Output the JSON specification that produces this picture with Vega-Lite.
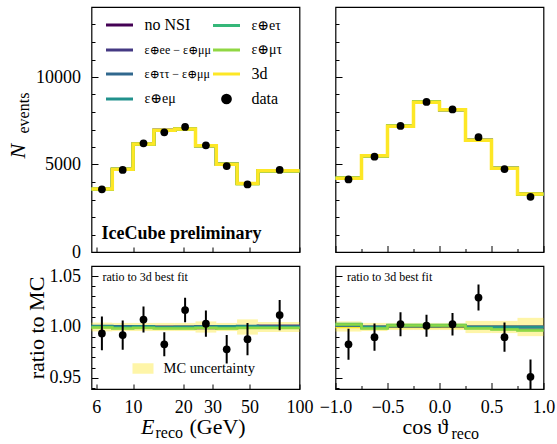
{
  "$schema": "https://vega.github.io/schema/vega-lite/v6.json",
  "padding": {"left": 5.5, "top": 6, "right": 2, "bottom": 0},
  "background": "white",
  "config": {
    "font": "Liberation Serif, DejaVu Serif, serif",
    "view": {"stroke": "black", "strokeWidth": 1.2},
    "axis": {"domain": false, "grid": false, "tickColor": "black", "tickWidth": 1, "labelColor": "black", "labelFont": "Liberation Serif, DejaVu Serif, serif", "labelFontSize": 18, "titleFont": "Liberation Serif, DejaVu Serif, serif", "titleFontWeight": "normal", "titleColor": "black", "labelOverlap": false, "labelFlush": false, "labelBound": false},
    "legend": {"labelFont": "Liberation Serif, DejaVu Serif, serif", "labelColor": "black", "padding": 0}
  },
  "datasets": {
    "topE": [
      {"x": 5.6234, "a": 3605, "b": 3605, "c": 3607, "d": 3605, "e": 3603, "f": 3601, "g": 3603},
      {"x": 7.4989, "a": 4730, "b": 4732, "c": 4732, "d": 4730, "e": 4725, "f": 4723, "g": 4730},
      {"x": 10, "a": 6167, "b": 6167, "c": 6170, "d": 6170, "e": 6164, "f": 6161, "g": 6167},
      {"x": 13.335, "a": 6954, "b": 6954, "c": 6954, "d": 6950, "e": 6947, "f": 6944, "g": 6954},
      {"x": 17.783, "a": 7030, "b": 7030, "c": 7030, "d": 7030, "e": 7023, "f": 7020, "g": 7030},
      {"x": 23.714, "a": 6067, "b": 6076, "c": 6076, "d": 6073, "e": 6070, "f": 6067, "g": 6073},
      {"x": 31.623, "a": 5019, "b": 5019, "c": 5022, "d": 5022, "e": 5014, "f": 5011, "g": 5019},
      {"x": 42.17, "a": 3910, "b": 3910, "c": 3912, "d": 3910, "e": 3906, "f": 3904, "g": 3908},
      {"x": 56.234, "a": 4642, "b": 4642, "c": 4639, "d": 4637, "e": 4635, "f": 4632, "g": 4637},
      {"x": 100, "a": 4642, "b": 4642, "c": 4639, "d": 4637, "e": 4635, "f": 4632, "g": 4637}
    ],
    "ratE": [
      {"x": 5.6234, "a": 1.0005, "b": 1.0005, "c": 1.001, "d": 1.0005, "e": 1.0, "f": 0.9995, "g": 1},
      {"x": 7.4989, "a": 1.0, "b": 1.0005, "c": 1.0005, "d": 1.0, "e": 0.999, "f": 0.9985, "g": 1},
      {"x": 10, "a": 1.0, "b": 1.0, "c": 1.0005, "d": 1.0005, "e": 0.9995, "f": 0.999, "g": 1},
      {"x": 13.335, "a": 1.0, "b": 1.0, "c": 1.0, "d": 0.9995, "e": 0.999, "f": 0.9985, "g": 1},
      {"x": 17.783, "a": 1.0, "b": 1.0, "c": 1.0, "d": 1.0, "e": 0.999, "f": 0.9985, "g": 1},
      {"x": 23.714, "a": 0.999, "b": 1.0005, "c": 1.0005, "d": 1.0, "e": 0.9995, "f": 0.999, "g": 1},
      {"x": 31.623, "a": 1.0, "b": 1.0, "c": 1.0005, "d": 1.0005, "e": 0.999, "f": 0.9985, "g": 1},
      {"x": 42.17, "a": 1.0005, "b": 1.0005, "c": 1.001, "d": 1.0005, "e": 0.9995, "f": 0.999, "g": 1},
      {"x": 56.234, "a": 1.001, "b": 1.001, "c": 1.0005, "d": 1.0, "e": 0.9995, "f": 0.999, "g": 1},
      {"x": 100, "a": 1.001, "b": 1.001, "c": 1.0005, "d": 1.0, "e": 0.9995, "f": 0.999, "g": 1}
    ],
    "bandE": [
      {"x": 5.6234, "x2": 7.4989, "lo": 0.9957, "hi": 1.0043},
      {"x": 7.4989, "x2": 10, "lo": 0.996, "hi": 1.004},
      {"x": 10, "x2": 13.335, "lo": 0.996, "hi": 1.004},
      {"x": 13.335, "x2": 17.783, "lo": 0.996, "hi": 1.004},
      {"x": 17.783, "x2": 23.714, "lo": 0.996, "hi": 1.004},
      {"x": 23.714, "x2": 31.623, "lo": 0.9945, "hi": 1.0055},
      {"x": 31.623, "x2": 42.17, "lo": 0.996, "hi": 1.004},
      {"x": 42.17, "x2": 56.234, "lo": 0.9925, "hi": 1.0075},
      {"x": 56.234, "x2": 100, "lo": 0.995, "hi": 1.005}
    ],
    "dataE": [
      {"x": 6.494, "n": 3580, "nlo": 3520, "nhi": 3640, "r": 0.9937, "rlo": 0.9771, "rhi": 1.0103},
      {"x": 8.66, "n": 4692, "nlo": 4624, "nhi": 4760, "r": 0.992, "rlo": 0.9775, "rhi": 1.0065},
      {"x": 11.548, "n": 6212, "nlo": 6133, "nhi": 6291, "r": 1.0073, "rlo": 0.9945, "rhi": 1.0201},
      {"x": 15.399, "n": 6836, "nlo": 6753, "nhi": 6919, "r": 0.983, "rlo": 0.9711, "rhi": 0.9949},
      {"x": 20.535, "n": 7147, "nlo": 7063, "nhi": 7231, "r": 1.0167, "rlo": 1.0047, "rhi": 1.0287},
      {"x": 27.384, "n": 6093, "nlo": 6015, "nhi": 6171, "r": 1.0033, "rlo": 0.9904, "rhi": 1.0162},
      {"x": 36.517, "n": 4909, "nlo": 4839, "nhi": 4979, "r": 0.978, "rlo": 0.964, "rhi": 0.992},
      {"x": 48.697, "n": 3861, "nlo": 3799, "nhi": 3923, "r": 0.988, "rlo": 0.9721, "rhi": 1.0039},
      {"x": 76, "n": 4691, "nlo": 4623, "nhi": 4759, "r": 1.0117, "rlo": 0.9969, "rhi": 1.0265}
    ],
    "topC": [
      {"x": -1, "a": 4223, "b": 4223, "c": 4221, "d": 4223, "e": 4228, "f": 4226, "g": 4215},
      {"x": -0.75, "a": 5498, "b": 5498, "c": 5498, "d": 5498, "e": 5492, "f": 5490, "g": 5498},
      {"x": -0.5, "a": 7191, "b": 7191, "c": 7191, "d": 7191, "e": 7198, "f": 7195, "g": 7184},
      {"x": -0.25, "a": 8572, "b": 8572, "c": 8572, "d": 8572, "e": 8580, "f": 8576, "g": 8563},
      {"x": 0, "a": 8131, "b": 8131, "c": 8135, "d": 8131, "e": 8139, "f": 8135, "g": 8123},
      {"x": 0.25, "a": 6379, "b": 6379, "c": 6379, "d": 6379, "e": 6373, "f": 6369, "g": 6379},
      {"x": 0.5, "a": 4789, "b": 4789, "c": 4789, "d": 4789, "e": 4779, "f": 4777, "g": 4789},
      {"x": 0.75, "a": 3314, "b": 3314, "c": 3314, "d": 3314, "e": 3304, "f": 3302, "g": 3314},
      {"x": 1, "a": 3314, "b": 3314, "c": 3314, "d": 3314, "e": 3304, "f": 3302, "g": 3314}
    ],
    "ratC": [
      {"x": -1, "a": 1.002, "b": 1.002, "c": 1.0015, "d": 1.002, "e": 1.003, "f": 1.0025, "g": 1},
      {"x": -0.75, "a": 1.0, "b": 1.0, "c": 1.0, "d": 1.0, "e": 0.999, "f": 0.9985, "g": 1},
      {"x": -0.5, "a": 1.001, "b": 1.001, "c": 1.001, "d": 1.001, "e": 1.002, "f": 1.0015, "g": 1},
      {"x": -0.25, "a": 1.001, "b": 1.001, "c": 1.001, "d": 1.001, "e": 1.002, "f": 1.0015, "g": 1},
      {"x": 0, "a": 1.001, "b": 1.001, "c": 1.0015, "d": 1.001, "e": 1.002, "f": 1.0015, "g": 1},
      {"x": 0.25, "a": 1.0, "b": 1.0, "c": 1.0, "d": 1.0, "e": 0.999, "f": 0.9985, "g": 1},
      {"x": 0.5, "a": 1.0, "b": 1.0, "c": 1.0, "d": 1.0, "e": 0.998, "f": 0.9975, "g": 1},
      {"x": 0.75, "a": 1.0, "b": 1.0, "c": 1.0, "d": 1.0, "e": 0.997, "f": 0.9965, "g": 1},
      {"x": 1, "a": 1.0, "b": 1.0, "c": 1.0, "d": 1.0, "e": 0.997, "f": 0.9965, "g": 1}
    ],
    "bandC": [
      {"x": -1, "x2": -0.75, "lo": 0.9955, "hi": 1.0055},
      {"x": -0.75, "x2": -0.5, "lo": 0.996, "hi": 1.004},
      {"x": -0.5, "x2": -0.25, "lo": 0.997, "hi": 1.004},
      {"x": -0.25, "x2": 0, "lo": 0.997, "hi": 1.004},
      {"x": 0, "x2": 0.25, "lo": 0.997, "hi": 1.004},
      {"x": 0.25, "x2": 0.5, "lo": 0.994, "hi": 1.006},
      {"x": 0.5, "x2": 0.75, "lo": 0.994, "hi": 1.006},
      {"x": 0.75, "x2": 1, "lo": 0.991, "hi": 1.009}
    ],
    "dataC": [
      {"x": -0.875, "n": 4143, "nlo": 4079, "nhi": 4207, "r": 0.983, "rlo": 0.9677, "rhi": 0.9983},
      {"x": -0.625, "n": 5443, "nlo": 5369, "nhi": 5517, "r": 0.99, "rlo": 0.9766, "rhi": 1.0034},
      {"x": -0.375, "n": 7203, "nlo": 7118, "nhi": 7288, "r": 1.0027, "rlo": 0.9909, "rhi": 1.0145},
      {"x": -0.125, "n": 8574, "nlo": 8481, "nhi": 8667, "r": 1.0013, "rlo": 0.9905, "rhi": 1.0121},
      {"x": 0.125, "n": 8145, "nlo": 8055, "nhi": 8235, "r": 1.0027, "rlo": 0.9916, "rhi": 1.0138},
      {"x": 0.375, "n": 6564, "nlo": 6483, "nhi": 6645, "r": 1.029, "rlo": 1.0163, "rhi": 1.0417},
      {"x": 0.625, "n": 4741, "nlo": 4672, "nhi": 4810, "r": 0.99, "rlo": 0.9756, "rhi": 1.0044},
      {"x": 0.875, "n": 3152, "nlo": 3096, "nhi": 3208, "r": 0.951, "rlo": 0.9341, "rhi": 0.9679}
    ]
  },
  "columns": 2,
  "spacing": {"row": 14, "column": 36},
  "bounds": "flush",
  "resolve": {"scale": {"color": "independent", "fill": "independent"}, "legend": {"color": "independent", "fill": "independent"}},
  "concat": [
    {
      "width": 208, "height": 245,
      "resolve": {"axis": {"x": "independent", "y": "independent"}},
      "layer": [
        {
          "data": {"name": "topE"},
          "transform": [{"fold": ["a", "b", "c", "d", "e", "f"], "as": ["m", "v"]}],
          "mark": {"type": "line", "interpolate": "step-after", "strokeWidth": 3},
          "encoding": {
            "x": {"field": "x", "type": "quantitative", "scale": {"type": "log", "domain": [5.6234, 100], "nice": false},
              "axis": {"orient": "bottom", "values": [6, 10, 20, 30, 50, 100], "labels": false, "title": null, "tickSize": -5}},
            "y": {"field": "v", "type": "quantitative", "scale": {"domain": [0, 14000], "nice": false, "zero": false},
              "axis": {"orient": "left", "values": [0, 1000, 2000, 3000, 4000, 5000, 6000, 7000, 8000, 9000, 10000, 11000, 12000, 13000],
                "labelExpr": "datum.value % 5000 === 0 ? format(datum.value, 'd') : ''",
                "tickSize": {"condition": {"test": "datum.value % 5000 === 0", "value": -6.5}, "value": -3.5},
                "labelPadding": 17.5,
                "title": "N", "titleFontStyle": "italic", "titleFontSize": 22, "titleAngle": -90,
                "titleX": -67, "titleY": 151, "titleAlign": "left", "titleBaseline": "alphabetic"}},
            "color": {"field": "m", "type": "nominal",
              "scale": {"domain": ["a", "b", "c", "d", "e", "f", "g", "data"], "range": ["#440154", "#443983", "#31688e", "#21918c", "#35b779", "#90d743", "#fde725", "#000000"]},
              "legend": {"orient": "none", "legendX": 13, "legendY": 3, "columns": 2, "title": null,
                "symbolType": "stroke", "symbolSize": 729, "symbolStrokeWidth": 3,
                "labelFontSize": 14, "labelOffset": 10, "rowPadding": 2, "columnPadding": -9,
                "labelExpr": "datum.value == 'a' ? 'no NSI' : datum.value == 'b' ? 'ε⊕ee − ε⊕μμ' : datum.value == 'c' ? 'ε⊕ττ − ε⊕μμ' : datum.value == 'd' ? 'ε⊕eμ' : datum.value == 'e' ? 'ε⊕eτ' : datum.value == 'f' ? 'ε⊕μτ' : datum.value == 'g' ? '3d' : 'data'",
                "encode": {
                  "symbols": {"update": {
                    "shape": {"signal": "datum.value === 'data' ? 'circle' : 'stroke'"},
                    "fill": {"signal": "datum.value === 'data' ? 'black' : 'transparent'"},
                    "size": {"signal": "datum.value === 'data' ? 60 : 729"}}},
                  "labels": {"update": {
                    "fontSize": {"signal": "datum.value === 'b' || datum.value === 'c' ? 12 : (datum.value === 'd' || datum.value === 'e' || datum.value === 'f') ? 14 : 16"}}}}}}
          }
        },
        {
          "data": {"name": "topE"},
          "mark": {"type": "line", "interpolate": "step-after", "strokeWidth": 3.5},
          "encoding": {
            "x": {"field": "x", "type": "quantitative", "axis": null},
            "y": {"field": "g", "type": "quantitative",
              "axis": {"orient": "left", "labels": false, "ticks": false, "domain": false, "title": "events", "titleFontSize": 16, "titleAngle": -90,
                "titleX": -63, "titleY": 126, "titleAlign": "left", "titleBaseline": "alphabetic"}},
            "color": {"datum": "g"}
          }
        },
        {
          "data": {"name": "dataE"},
          "mark": {"type": "rule", "strokeWidth": 2, "color": "black"},
          "encoding": {
            "x": {"field": "x", "type": "quantitative", "axis": null},
            "y": {"field": "nlo", "type": "quantitative", "axis": null},
            "y2": {"field": "nhi"}
          }
        },
        {
          "data": {"name": "dataE"},
          "mark": {"type": "point", "filled": true, "size": 60, "opacity": 1},
          "encoding": {
            "x": {"field": "x", "type": "quantitative", "axis": null},
            "y": {"field": "n", "type": "quantitative", "axis": null},
            "color": {"datum": "data"}
          }
        },
        {
          "data": {"values": [{}]},
          "mark": {"type": "text", "text": "IceCube preliminary", "font": "Liberation Serif, DejaVu Serif, serif", "fontWeight": "bold", "fontSize": 18, "align": "left", "baseline": "alphabetic", "color": "black"},
          "encoding": {
            "x": {"datum": 6.45, "type": "quantitative", "axis": null},
            "y": {"datum": 740, "type": "quantitative", "axis": null}
          }
        }
      ]
    },
    {
      "width": 208, "height": 245,
      "resolve": {"axis": {"x": "independent", "y": "independent"}},
      "layer": [
        {
          "data": {"name": "topC"},
          "transform": [{"fold": ["a", "b", "c", "d", "e", "f"], "as": ["m", "v"]}],
          "mark": {"type": "line", "interpolate": "step-after", "strokeWidth": 3},
          "encoding": {
            "x": {"field": "x", "type": "quantitative", "scale": {"domain": [-1, 1], "nice": false},
              "axis": {"orient": "bottom", "values": [-1, -0.75, -0.5, -0.25, 0, 0.25, 0.5, 0.75, 1], "labels": false, "title": null,
                "tickSize": {"condition": {"test": "abs(datum.value*2 - round(datum.value*2)) < 1e-6", "value": -6.5}, "value": -3.5}}},
            "y": {"field": "v", "type": "quantitative", "scale": {"domain": [0, 14000], "nice": false, "zero": false},
              "axis": {"orient": "left", "values": [0, 1000, 2000, 3000, 4000, 5000, 6000, 7000, 8000, 9000, 10000, 11000, 12000, 13000],
                "labels": false, "title": null,
                "tickSize": {"condition": {"test": "datum.value % 5000 === 0", "value": -6.5}, "value": -3.5}}},
            "color": {"field": "m", "type": "nominal",
              "scale": {"domain": ["a", "b", "c", "d", "e", "f", "g", "data"], "range": ["#440154", "#443983", "#31688e", "#21918c", "#35b779", "#90d743", "#fde725", "#000000"]},
              "legend": null}
          }
        },
        {
          "data": {"name": "topC"},
          "mark": {"type": "line", "interpolate": "step-after", "strokeWidth": 3.5},
          "encoding": {
            "x": {"field": "x", "type": "quantitative", "axis": null},
            "y": {"field": "g", "type": "quantitative", "axis": null},
            "color": {"datum": "g"}
          }
        },
        {
          "data": {"name": "dataC"},
          "mark": {"type": "rule", "strokeWidth": 2, "color": "black"},
          "encoding": {
            "x": {"field": "x", "type": "quantitative", "axis": null},
            "y": {"field": "nlo", "type": "quantitative", "axis": null},
            "y2": {"field": "nhi"}
          }
        },
        {
          "data": {"name": "dataC"},
          "mark": {"type": "point", "filled": true, "size": 60, "opacity": 1},
          "encoding": {
            "x": {"field": "x", "type": "quantitative", "axis": null},
            "y": {"field": "n", "type": "quantitative", "axis": null},
            "color": {"datum": "data"}
          }
        }
      ]
    },
    {
      "width": 208, "height": 123,
      "resolve": {"axis": {"x": "independent", "y": "independent"}},
      "layer": [
        {
          "data": {"name": "bandE"},
          "mark": {"type": "rect", "opacity": 0.4},
          "encoding": {
            "x": {"field": "x", "type": "quantitative", "scale": {"type": "log", "domain": [5.6234, 100], "nice": false},
              "axis": {"orient": "bottom", "values": [6, 10, 20, 30, 50, 100], "labelExpr": "format(datum.value, 'd')", "tickSize": -5, "labelPadding": 14,
                "title": "E", "titleFontStyle": "italic", "titleFontSize": 22, "titleX": 49, "titleY": 44, "titleAlign": "left", "titleBaseline": "alphabetic", "titleAnchor": "start"}},
            "x2": {"field": "x2"},
            "y": {"field": "lo", "type": "quantitative", "scale": {"domain": [0.939, 1.06], "nice": false, "zero": false},
              "axis": {"orient": "left", "values": [0.94, 0.95, 0.96, 0.97, 0.98, 0.99, 1, 1.01, 1.02, 1.03, 1.04, 1.05],
                "labelExpr": "abs(datum.value*20 - round(datum.value*20)) < 1e-6 ? format(datum.value, '.2f') : ''",
                "tickSize": {"condition": {"test": "abs(datum.value*20 - round(datum.value*20)) < 1e-6", "value": -6.5}, "value": -3.5},
                "labelPadding": 17.5,
                "title": "ratio to MC", "titleFontSize": 22, "titleAngle": -90, "titleX": -48.5, "titleBaseline": "alphabetic"}},
            "y2": {"field": "hi"},
            "fill": {"datum": "MC uncertainty", "type": "nominal", "scale": {"domain": ["MC uncertainty"], "range": ["#fde725"]},
              "legend": {"orient": "none", "legendX": 41, "legendY": 92, "title": null, "symbolType": "M-1,-0.5H1V0.5H-1Z", "symbolSize": 441, "symbolOpacity": 0.4, "symbolStrokeWidth": 0, "labelFontSize": 14.5, "labelOffset": 10}}
          }
        },
        {
          "data": {"name": "ratE"},
          "mark": {"type": "line", "interpolate": "step-after", "strokeWidth": 2.5},
          "encoding": {
            "x": {"field": "x", "type": "quantitative",
              "axis": {"orient": "bottom", "labels": false, "ticks": false, "domain": false, "title": "(GeV)", "titleFontSize": 22, "titleX": 97.5, "titleY": 44, "titleAlign": "left", "titleBaseline": "alphabetic", "titleAnchor": "start"}},
            "y": {"field": "g", "type": "quantitative", "axis": null},
            "color": {"datum": "g", "scale": {"domain": ["a", "b", "c", "d", "e", "f", "g", "data"], "range": ["#440154", "#443983", "#31688e", "#21918c", "#35b779", "#90d743", "#fde725", "#000000"]}, "legend": null}
          }
        },
        {
          "data": {"name": "ratE"},
          "transform": [{"fold": ["a", "b", "c", "d", "e", "f"], "as": ["m", "v"]}],
          "mark": {"type": "line", "interpolate": "step-after", "strokeWidth": 2.5},
          "encoding": {
            "x": {"field": "x", "type": "quantitative",
              "axis": {"orient": "bottom", "labels": false, "ticks": false, "domain": false, "title": "reco", "titleFontSize": 16, "titleX": 63.5, "titleY": 48.5, "titleAlign": "left", "titleBaseline": "alphabetic", "titleAnchor": "start"}},
            "y": {"field": "v", "type": "quantitative", "axis": null},
            "color": {"field": "m", "type": "nominal", "legend": null}
          }
        },
        {
          "data": {"name": "dataE"},
          "mark": {"type": "rule", "strokeWidth": 2, "color": "black", "clip": true},
          "encoding": {
            "x": {"field": "x", "type": "quantitative", "axis": null},
            "y": {"field": "rlo", "type": "quantitative", "axis": null},
            "y2": {"field": "rhi"}
          }
        },
        {
          "data": {"name": "dataE"},
          "mark": {"type": "point", "filled": true, "size": 60, "opacity": 1, "color": "black"},
          "encoding": {
            "x": {"field": "x", "type": "quantitative", "axis": null},
            "y": {"field": "r", "type": "quantitative", "axis": null}
          }
        },
        {
          "data": {"values": [{}]},
          "mark": {"type": "text", "text": "ratio to 3d best fit", "font": "Liberation Serif, DejaVu Serif, serif", "fontSize": 12, "align": "left", "baseline": "alphabetic", "color": "black"},
          "encoding": {
            "x": {"datum": 6.55, "type": "quantitative", "axis": null},
            "y": {"datum": 1.0453, "type": "quantitative", "axis": null}
          }
        }
      ]
    },
    {
      "width": 208, "height": 123,
      "resolve": {"axis": {"x": "independent", "y": "independent"}},
      "layer": [
        {
          "data": {"name": "bandC"},
          "mark": {"type": "rect", "opacity": 0.4, "color": "#fde725"},
          "encoding": {
            "x": {"field": "x", "type": "quantitative", "scale": {"domain": [-1, 1], "nice": false},
              "axis": {"orient": "bottom", "values": [-1, -0.75, -0.5, -0.25, 0, 0.25, 0.5, 0.75, 1],
                "labelExpr": "abs(datum.value*2 - round(datum.value*2)) < 1e-6 ? replace(format(datum.value, '.1f'), '-', '−') : ''",
                "tickSize": {"condition": {"test": "abs(datum.value*2 - round(datum.value*2)) < 1e-6", "value": -6.5}, "value": -3.5},
                "labelPadding": 15.5,
                "title": "cos ϑ", "titleFontSize": 22, "titleX": 66.5, "titleY": 44, "titleAlign": "left", "titleBaseline": "alphabetic", "titleAnchor": "start"}},
            "x2": {"field": "x2"},
            "y": {"field": "lo", "type": "quantitative", "scale": {"domain": [0.939, 1.06], "nice": false, "zero": false},
              "axis": {"orient": "left", "values": [0.94, 0.95, 0.96, 0.97, 0.98, 0.99, 1, 1.01, 1.02, 1.03, 1.04, 1.05],
                "labels": false, "title": null,
                "tickSize": {"condition": {"test": "abs(datum.value*20 - round(datum.value*20)) < 1e-6", "value": -6.5}, "value": -3.5}}},
            "y2": {"field": "hi"}
          }
        },
        {
          "data": {"name": "ratC"},
          "mark": {"type": "line", "interpolate": "step-after", "strokeWidth": 2.5},
          "encoding": {
            "x": {"field": "x", "type": "quantitative", "axis": null},
            "y": {"field": "g", "type": "quantitative", "axis": null},
            "color": {"datum": "g", "scale": {"domain": ["a", "b", "c", "d", "e", "f", "g", "data"], "range": ["#440154", "#443983", "#31688e", "#21918c", "#35b779", "#90d743", "#fde725", "#000000"]}, "legend": null}
          }
        },
        {
          "data": {"name": "ratC"},
          "transform": [{"fold": ["a", "b", "c", "d", "e", "f"], "as": ["m", "v"]}],
          "mark": {"type": "line", "interpolate": "step-after", "strokeWidth": 2.5},
          "encoding": {
            "x": {"field": "x", "type": "quantitative",
              "axis": {"orient": "bottom", "labels": false, "ticks": false, "domain": false, "title": "reco", "titleFontSize": 16, "titleX": 115.5, "titleY": 49, "titleAlign": "left", "titleBaseline": "alphabetic", "titleAnchor": "start"}},
            "y": {"field": "v", "type": "quantitative", "axis": null},
            "color": {"field": "m", "type": "nominal", "legend": null}
          }
        },
        {
          "data": {"name": "dataC"},
          "mark": {"type": "rule", "strokeWidth": 2, "color": "black", "clip": true},
          "encoding": {
            "x": {"field": "x", "type": "quantitative", "axis": null},
            "y": {"field": "rlo", "type": "quantitative", "axis": null},
            "y2": {"field": "rhi"}
          }
        },
        {
          "data": {"name": "dataC"},
          "mark": {"type": "point", "filled": true, "size": 60, "opacity": 1, "color": "black"},
          "encoding": {
            "x": {"field": "x", "type": "quantitative", "axis": null},
            "y": {"field": "r", "type": "quantitative", "axis": null}
          }
        },
        {
          "data": {"values": [{}]},
          "mark": {"type": "text", "text": "ratio to 3d best fit", "font": "Liberation Serif, DejaVu Serif, serif", "fontSize": 12, "align": "left", "baseline": "alphabetic", "color": "black"},
          "encoding": {
            "x": {"datum": -0.89, "type": "quantitative", "axis": null},
            "y": {"datum": 1.0453, "type": "quantitative", "axis": null}
          }
        }
      ]
    }
  ]
}
